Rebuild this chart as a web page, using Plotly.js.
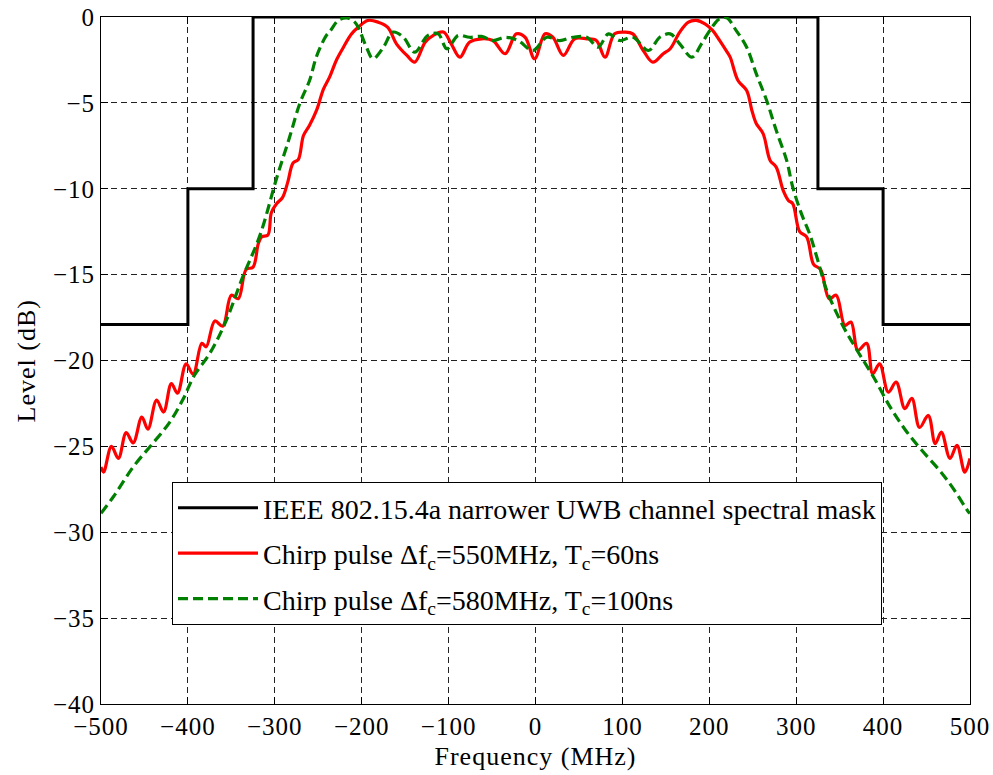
<!DOCTYPE html>
<html>
<head>
<meta charset="utf-8">
<script src="https://cdn.plot.ly/plotly-3.0.1.min.js"></script>
<style>
html,body{margin:0;padding:0;background:#fff;}
#chart{width:993px;height:775px;}
#chart .xtick text, #chart .ytick text, #chart .xtitle, #chart .annotation-text{letter-spacing:1px;}
</style>
</head>
<body>
<div id="chart"></div>
<script>
// IEEE 802.15.4a narrower UWB channel spectral mask
const maskFreq  = [-500, -400, -400, -325, -325, 325, 325, 400, 400, 500];
const maskLevel = [-17.9, -17.9, -10, -10, 0, 0, -10, -10, -17.9, -17.9];

// Chirp pulse Δf=550MHz, T=60ns (red)
const redFreq = [-500,-497,-488,-480,-471,-463,-453,-446,-436,-428,-419,-412,-402,-394,-384,-379,-369,-360,-350,-342,-333,-325,-319,-315,-308,-304,-298,-291,-285,-279,-273,-267,-260,-252,-244,-237,-229,-221,-212,-204,-193,-181,-170,-160,-148,-139,-127,-118,-106,-97,-87,-76,-62,-49,-35,-22,-12,-1,11,20,32,45,59,70,80,91,103,112,124,135,147,155,166,176,185,195,204,212,220,224,233,243,249,254,262,270,277,285,291,296,304,312,320,328,338,346,356,363,371,381,388,396,406,415,425,433,442,452,460,467,477,485,494,500];
const redLevel = [-26.2,-26.5,-25.0,-25.7,-24.2,-24.8,-23.3,-24.0,-22.3,-23.0,-21.35,-21.9,-20.2,-20.8,-19.0,-19.2,-17.7,-18.0,-16.2,-16.4,-14.7,-14.56,-13.2,-12.8,-12.7,-11.4,-10.87,-10.5,-9.6,-8.5,-8.3,-6.9,-6.3,-5.44,-4.2,-3.5,-2.5,-1.76,-1.0,-0.6,-0.2,-0.3,-0.6,-1.56,-2.24,-2.63,-1.47,-1.08,-0.88,-1.56,-2.34,-1.47,-1.27,-1.37,-2.14,-0.98,-1.18,-2.43,-0.98,-1.18,-2.24,-1.27,-1.27,-1.37,-2.34,-0.98,-0.88,-0.98,-1.95,-2.63,-2.14,-1.85,-0.88,-0.3,-0.2,-0.4,-0.79,-1.37,-2.0,-2.34,-3.7,-4.28,-5.44,-6.2,-6.8,-8.35,-8.74,-10.1,-10.68,-10.87,-12.5,-12.8,-14.4,-14.7,-16.4,-16.2,-17.96,-17.76,-19.4,-19.0,-20.77,-20.2,-21.84,-21.26,-22.8,-22.2,-23.9,-23.2,-24.84,-24.17,-25.7,-24.94,-26.5,-25.7];

// Chirp pulse Δf=580MHz, T=100ns (green dashed)
const greenFreq = [-500,-486,-463,-440,-421,-405,-393,-375,-357,-337,-317,-298,-283,-271,-260,-252,-241,-236,-227,-217,-208,-204,-194.5,-187,-175,-164,-152,-139,-124,-112,-102,-89,-76,-62,-49,-35,-20,-3,13,28,43,59,72,84,97,112,130,143,155,166,180,191,203,212,220,231,243,254,266,277,289,296,306,316,325,335,354,370,389,408,425,444,465,480,498,500];
const greenLevel = [-28.9,-27.95,-26.2,-24.8,-23.6,-22.2,-20.9,-19.6,-17.8,-15.15,-12.7,-9.4,-7.0,-5.0,-3.7,-2.3,-1.1,-0.8,-0.2,-0.05,-0.3,-0.6,-1.76,-2.43,-1.76,-0.88,-1.18,-2.05,-1.08,-0.98,-1.85,-1.08,-1.18,-1.13,-1.37,-1.18,-1.37,-1.95,-1.18,-1.37,-1.18,-1.18,-1.76,-0.98,-1.37,-1.18,-1.95,-1.18,-0.98,-1.56,-2.34,-1.56,-0.6,-0.1,-0.05,-0.79,-1.76,-3.3,-4.86,-6.6,-8.35,-9.9,-11.45,-12.7,-14.2,-15.9,-18.0,-19.4,-20.96,-22.7,-24.0,-25.2,-26.4,-27.4,-28.8,-28.9];

const xTicks = [-500,-400,-300,-200,-100,0,100,200,300,400,500];
const yTicks = [-40,-35,-30,-25,-20,-15,-10,-5,0];
const fmt = v => (v < 0 ? '\u2212' + Math.abs(v) : String(v));

const serif = 'Liberation Serif, Times New Roman, serif';

const traces = [
  {x: maskFreq, y: maskLevel, mode: 'lines', name: 'IEEE 802.15.4a narrower UWB channel spectral mask',
   legendgroup: 'a', line: {color: '#000000', width: 3}, cliponaxis: false},
  {x: redFreq, y: redLevel, mode: 'lines', name: 'Chirp pulse Δf<sub>c</sub>=550MHz, T<sub>c</sub>=60ns',
   legendgroup: 'b', line: {color: '#ff0000', width: 3.2, shape: 'spline', smoothing: 1}},
  {x: greenFreq, y: greenLevel, mode: 'lines', name: 'Chirp pulse Δf<sub>c</sub>=580MHz, T<sub>c</sub>=100ns',
   legendgroup: 'c', line: {color: '#008000', width: 3.2, dash: '10px,5px', shape: 'spline', smoothing: 1}}
];

const axisCommon = {
  showline: true, linecolor: '#000', linewidth: 1, mirror: 'ticks',
  ticks: 'inside', ticklen: 7, tickcolor: '#000',
  showgrid: true, gridcolor: '#222', gridwidth: 1, griddash: '6px,4px',
  zeroline: false,
  tickfont: {family: serif, size: 25, color: '#000'}
};

const layout = {
  width: 993, height: 775,
  margin: {l: 101, r: 23, t: 16.5, b: 71},
  paper_bgcolor: '#fff', plot_bgcolor: '#fff',
  font: {family: serif, color: '#000'},
  xaxis: Object.assign({}, axisCommon, {
    range: [-500, 500], tickvals: xTicks, ticktext: xTicks.map(fmt),
    title: {text: 'Frequency (MHz)', font: {family: serif, size: 26, color: '#000'}, standoff: 7}
  }),
  yaxis: Object.assign({}, axisCommon, {
    range: [-40, 0], tickvals: yTicks, ticktext: yTicks.map(fmt)
  }),
  annotations: [{
    text: 'Level (dB)', xref: 'paper', yref: 'paper', x: -0.0852, y: 0.5,
    xanchor: 'center', yanchor: 'middle', textangle: -90, showarrow: false,
    font: {family: serif, size: 26, color: '#000'}
  }],
  showlegend: true,
  legend: {
    x: 0.0817, y: 0.323, xanchor: 'left', yanchor: 'top',
    bgcolor: '#fff', bordercolor: '#000', borderwidth: 1,
    font: {family: serif, size: 28, color: '#000'},
    itemwidth: 80, tracegroupgap: 6
  }
};

Plotly.newPlot('chart', traces, layout, {staticPlot: true, displayModeBar: false});
</script>
</body>
</html>
